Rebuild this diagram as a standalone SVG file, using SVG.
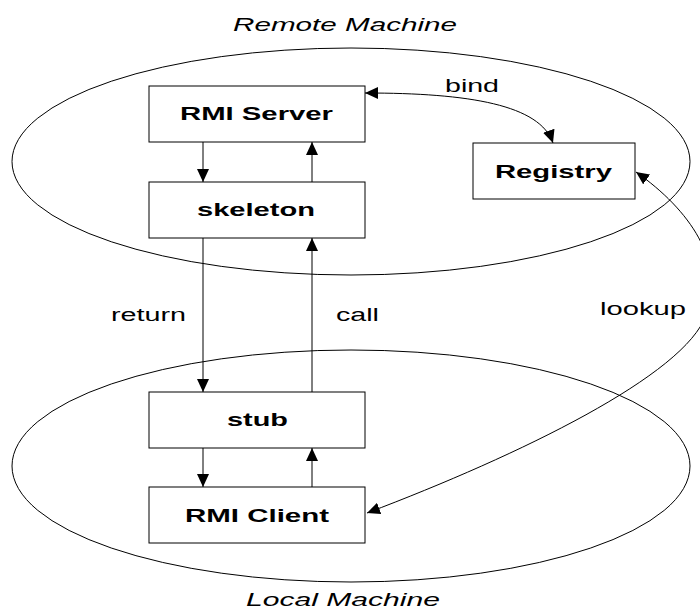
<svg xmlns="http://www.w3.org/2000/svg" width="700" height="612" viewBox="0 0 700 612">
<style>
.bg{fill:#fff}
.box{fill:#fff;stroke:#000;stroke-width:1}
.ell{fill:none;stroke:#000;stroke-width:1}
.bl{font-family:"Liberation Sans",Arial,sans-serif;font-weight:bold;font-size:18px;fill:#000}
.lb{font-family:"Liberation Sans",Arial,sans-serif;font-size:18px;fill:#000}
.it{font-family:"Liberation Sans",Arial,sans-serif;font-style:italic;font-size:18px;fill:#000}
.ln{fill:none;stroke:#000;stroke-width:1}
</style>
<defs>
<marker id="ah" markerUnits="userSpaceOnUse" markerWidth="14" markerHeight="12" viewBox="0 0 14 12" refX="13" refY="6" orient="auto-start-reverse">
<path d="M0,0 L13,6 L0,12 Z" fill="#000"/>
</marker>
</defs>
<rect class="bg" x="0" y="0" width="700" height="612"/>
<g id="remote-machine">
<ellipse class="ell" cx="351" cy="161.5" rx="339" ry="113.5"/>
<text class="it" x="233" y="31" textLength="224" lengthAdjust="spacingAndGlyphs">Remote Machine</text>
</g>
<g id="local-machine">
<ellipse class="ell" cx="351" cy="466" rx="339" ry="116"/>
<text class="it" x="246" y="606" textLength="194" lengthAdjust="spacingAndGlyphs">Local Machine</text>
</g>
<g id="rmi-server">
<rect class="box" x="149" y="86" width="216" height="56"/>
<text class="bl" x="180" y="120" textLength="153" lengthAdjust="spacingAndGlyphs">RMI Server</text>
</g>
<g id="skeleton">
<rect class="box" x="149" y="182" width="216" height="56"/>
<text class="bl" x="197" y="216" textLength="118" lengthAdjust="spacingAndGlyphs">skeleton</text>
</g>
<g id="registry">
<rect class="box" x="473" y="143" width="162" height="56"/>
<text class="bl" x="495" y="178" textLength="117" lengthAdjust="spacingAndGlyphs">Registry</text>
</g>
<g id="stub">
<rect class="box" x="149" y="392" width="216" height="56"/>
<text class="bl" x="227" y="426" textLength="61" lengthAdjust="spacingAndGlyphs">stub</text>
</g>
<g id="rmi-client">
<rect class="box" x="149" y="487" width="216" height="56"/>
<text class="bl" x="185" y="522" textLength="144" lengthAdjust="spacingAndGlyphs">RMI Client</text>
</g>
<g id="connectors">
<line class="ln" x1="203" y1="142" x2="203" y2="182" marker-end="url(#ah)"/>
<line class="ln" x1="312" y1="182" x2="312" y2="142" marker-end="url(#ah)"/>
<line class="ln" x1="203" y1="238" x2="203" y2="392" marker-end="url(#ah)"/>
<line class="ln" x1="312" y1="392" x2="312" y2="238" marker-end="url(#ah)"/>
<line class="ln" x1="203" y1="448" x2="203" y2="487" marker-end="url(#ah)"/>
<line class="ln" x1="312" y1="487" x2="312" y2="448" marker-end="url(#ah)"/>
<path class="ln" d="M365,93 C470,93 540,105 553,143" marker-start="url(#ah)" marker-end="url(#ah)"/>
<path class="ln" d="M367,513 C520,455 685,375 706,315 C726,262 690,210 636,172" marker-start="url(#ah)" marker-end="url(#ah)"/>
<text class="lb" x="445" y="92" textLength="54" lengthAdjust="spacingAndGlyphs">bind</text>
<text class="lb" x="111" y="321" textLength="75" lengthAdjust="spacingAndGlyphs">return</text>
<text class="lb" x="336" y="321" textLength="43" lengthAdjust="spacingAndGlyphs">call</text>
<text class="lb" x="600" y="315" textLength="86" lengthAdjust="spacingAndGlyphs">lookup</text>
</g>
</svg>
